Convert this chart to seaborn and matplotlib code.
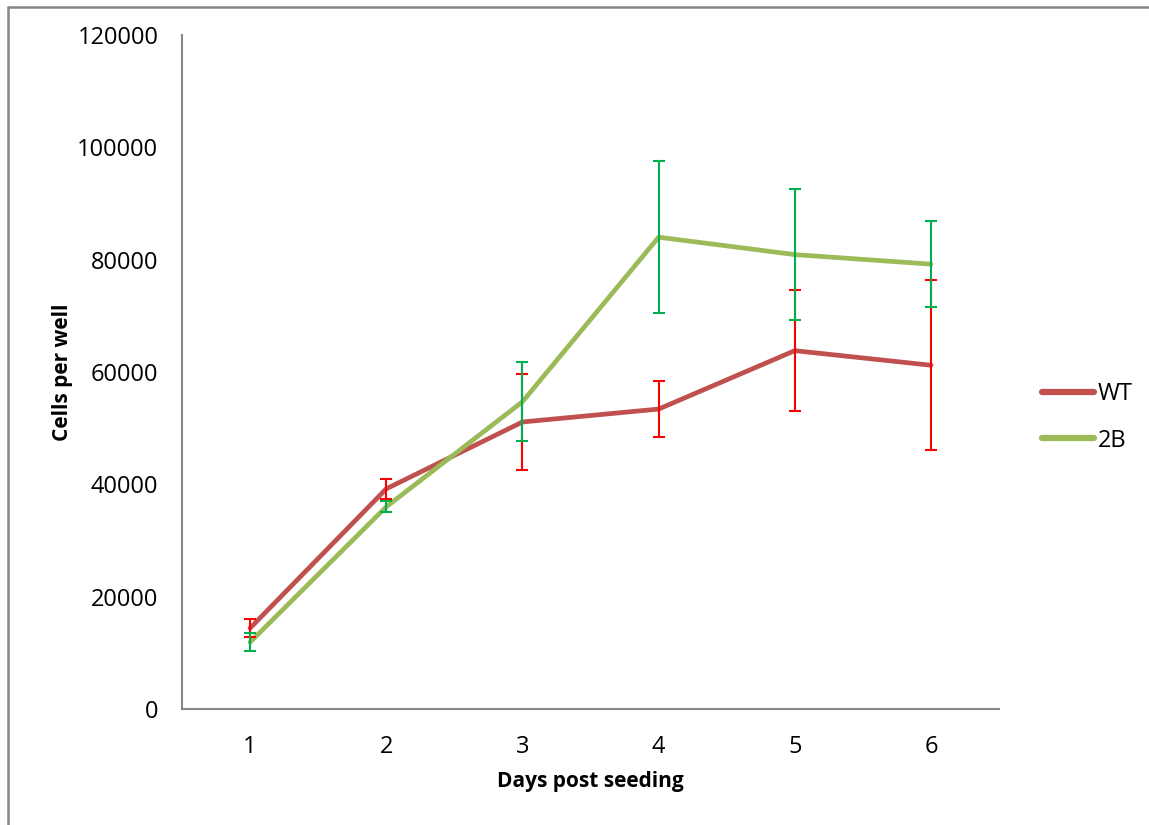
import pandas as pd
import numpy as np
import matplotlib.pyplot as plt
import matplotlib.lines as mlines
import seaborn as sns

days = [1, 2, 3, 4, 5, 6]
wt_mean = [14400, 39200, 51100, 53400, 63800, 61200]
wt_err = [1600, 1800, 8600, 5000, 10800, 15100]
b2_mean = [11900, 36000, 54700, 84000, 80900, 79200]
b2_err = [1600, 1000, 7000, 13500, 11700, 7700]
groups = ["WT", "2B"]
line_colors = ["#C0504D", "#9BBB59"]
bar_colors = ["#FF0000", "#00B050"]

sns.set_style("white")
plt.rcParams['font.family'] = ['Open Sans', 'DejaVu Sans']
plt.rcParams['text.color'] = 'black'
plt.rcParams['axes.labelcolor'] = 'black'
plt.rcParams['xtick.color'] = 'black'
plt.rcParams['ytick.color'] = 'black'

df = pd.DataFrame({
    "day": days * 2,
    "cells": wt_mean + b2_mean,
    "group": ["WT"] * len(days) + ["2B"] * len(days),
})

fig = plt.figure(figsize=(11.49, 8.25), dpi=100)
ax = fig.add_axes([0.1584, 0.1406, 0.8695 - 0.1584, 0.9576 - 0.1406])

sns.lineplot(data=df, x="day", y="cells", hue="group", hue_order=groups,
             palette=line_colors, linewidth=3.4, ax=ax, legend=False, zorder=2)

# error bars, WT first so 2B sits on top
for means, errs, col in [(wt_mean, wt_err, bar_colors[0]), (b2_mean, b2_err, bar_colors[1])]:
    ax.errorbar(days, means, yerr=errs, fmt="none", ecolor=col, elinewidth=1.5,
                capsize=4.3, capthick=1.5, zorder=3)

ax.set_xlim(0.5, 6.5)
ax.set_ylim(0, 120000)
ax.set_yticks(np.arange(0, 120001, 20000))
ax.set_yticklabels([str(v) for v in range(0, 120001, 20000)])
ax.set_xticks(days)
ax.set_xticks(np.arange(0.5, 6.6, 1), minor=True)
ax.tick_params(axis="x", which="major", length=0, pad=19, labelsize=17, labelcolor="black")
ax.tick_params(axis="x", which="minor", length=7, width=1.5, color="#888888", direction="out")
ax.tick_params(axis="y", length=7, width=1.5, color="#888888", direction="out", pad=10,
               labelsize=17, labelcolor="black")

for s in ["top", "right"]:
    ax.spines[s].set_visible(False)
for s in ["left", "bottom"]:
    ax.spines[s].set_color("#888888")
    ax.spines[s].set_linewidth(1.5)

ax.set_xlabel("Days post seeding", fontsize=15, fontweight="bold", labelpad=8, color="black")
ax.set_ylabel("Cells per well", fontsize=15, fontweight="bold", labelpad=3, color="black")

handles = [mlines.Line2D([], [], color=c, linewidth=4.5, solid_capstyle="round") for c in line_colors]
fig.legend(handles, groups, loc="center left", bbox_to_anchor=(0.899, 0.494),
           frameon=False, fontsize=17, handlelength=2.2, handletextpad=0.15,
           labelspacing=0.95, borderaxespad=0)

# chart border (top and left edge only visible)
fig.add_artist(mlines.Line2D([0.0068, 0.0068], [0, 0.992], color="#888888", linewidth=1.8,
                             transform=fig.transFigure))
fig.add_artist(mlines.Line2D([0.0068, 1], [0.992, 0.992], color="#888888", linewidth=1.8,
                             transform=fig.transFigure))

fig.savefig("out.png", dpi=100)
